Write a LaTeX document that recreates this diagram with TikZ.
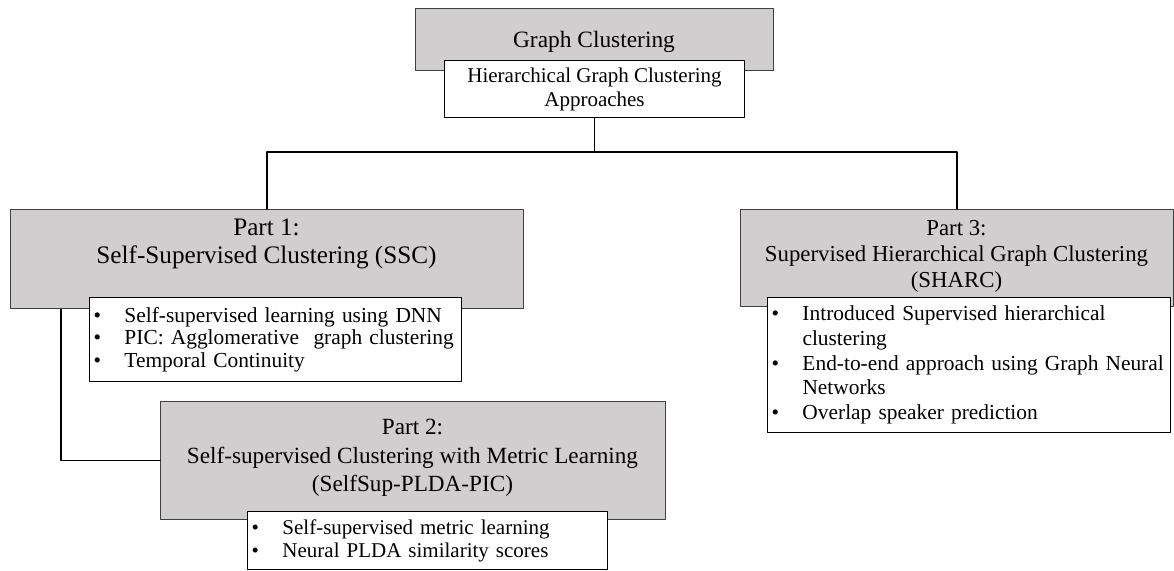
\documentclass[tikz,border=0pt]{standalone}
\usepackage{fontspec}
\setmainfont{Liberation Serif}
\definecolor{boxgray}{HTML}{D0CECE}
\newcommand{\bul}{\makebox[15.5pt][l]{\textbullet}}
\newcommand{\cont}{\hspace*{15.5pt}}
\begin{document}
\begin{tikzpicture}[x=0.5pt, y=-0.5pt, line join=round, line cap=round,
	graybox/.style={draw=black!75, fill=boxgray, line width=0.6pt, anchor=north west, inner sep=0pt},
	whitebox/.style={draw=black, fill=white, line width=0.5pt, anchor=north west, inner sep=0pt},
	titletext/.style={align=center, anchor=north, inner sep=0pt},
	listbox/.style={whitebox, align=left, inner xsep=2pt},
	conn/.style={line width=0.65pt}]
	\useasboundingbox (0,0) rectangle (1174,570);
	% top
	\node[graybox, minimum width=179pt, minimum height=31pt] (gc) at (415,8) {};
	\node[anchor=base, inner sep=0pt, font=\fontsize{11.7}{14}\selectfont] (gctitle) at (594,47) {Graph Clustering};
	\node[whitebox, minimum width=150pt, minimum height=28.5pt, align=center, font=\fontsize{10.5}{12}\selectfont] (hgc) at (444,60) {Hierarchical Graph Clustering\\Approaches};
	% part 1
	\node[graybox, minimum width=256.5pt, minimum height=49.5pt] (part1) at (10,209) {};
	\node[titletext, font=\fontsize{12.6}{14}\selectfont] (p1title) at (266.5,218) {Part 1:\\Self-Supervised Clustering (SSC)};
	\node[listbox, text width=182pt, minimum height=42pt, font=\fontsize{10.7}{11.2}\selectfont] (p1list) at (89,297)
		{\bul Self-supervised learning using DNN\\
		 \bul PIC: Agglomerative~ graph clustering\\
		 \bul Temporal Continuity};
	% part 2
	\node[graybox, minimum width=252.5pt, minimum height=59pt] (part2) at (160,401) {};
	\node[titletext, font=\fontsize{11.6}{14.2}\selectfont] (p2title) at (412.5,419) {Part 2:\\Self-supervised Clustering with Metric Learning\\(SelfSup-PLDA-PIC)};
	\node[listbox, text width=176pt, minimum height=29pt, font=\fontsize{10.5}{11.5}\selectfont] (p2list) at (247,511)
		{\bul Self-supervised metric learning\\
		 \bul Neural PLDA similarity scores};
	% part 3
	\node[graybox, minimum width=216.5pt, minimum height=48.5pt] (part3) at (740,209) {};
	\node[titletext, font=\fontsize{11.4}{13}\selectfont] (p3title) at (956.5,219.5) {Part 3:\\Supervised Hierarchical Graph Clustering\\(SHARC)};
	\node[listbox, text width=197.5pt, minimum height=67.5pt, font=\fontsize{10.7}{12.3}\selectfont] (p3list) at (767,297)
		{\bul Introduced Supervised hierarchical\\
		 \cont clustering\\
		 \bul End-to-end approach using Graph Neural\\
		 \cont Networks\\
		 \bul Overlap speaker prediction};
	% connectors
	\draw[conn] (hgc.south) -- ++(0,34) -| (part1.north);
	\draw[conn] (hgc.south) -- ++(0,34) -| (part3.north);
	\draw[conn] ([xshift=25.5pt]part1.south west) |- (part2.west);
\end{tikzpicture}
\end{document}
